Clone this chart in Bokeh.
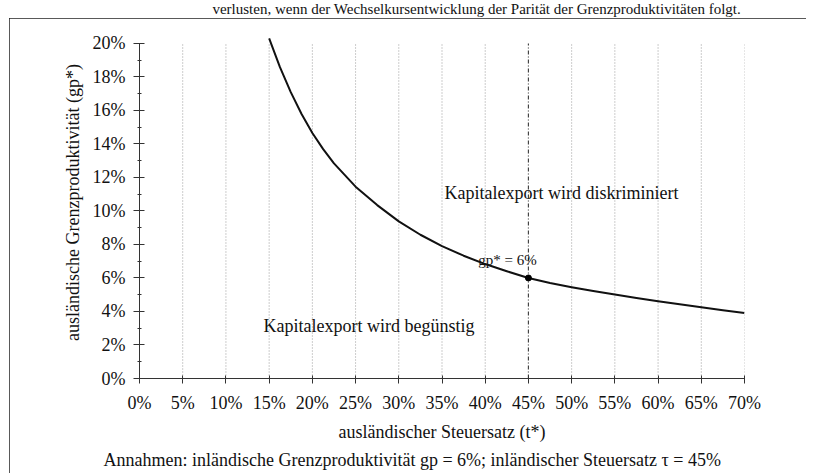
from bokeh.plotting import figure
from bokeh.models import Label, NumeralTickFormatter, FixedTicker, Title
from bokeh.layouts import column
from bokeh.embed import file_html
from bokeh.resources import INLINE

# ---- data ----
tax_rate = [0.15, 0.1625, 0.175, 0.1875, 0.20, 0.2125, 0.225, 0.25, 0.275, 0.30, 0.325,
            0.35, 0.375, 0.40, 0.425, 0.45, 0.475, 0.50, 0.525, 0.55, 0.575, 0.60,
            0.625, 0.65, 0.675, 0.70]
gp_star = [0.203, 0.1858, 0.1709, 0.1579, 0.1465, 0.1369, 0.1284, 0.1145, 0.1035, 0.0938,
           0.0858, 0.0790, 0.0733, 0.0683, 0.0640, 0.0600, 0.0570, 0.0545, 0.0522,
           0.0501, 0.0481, 0.0461, 0.0443, 0.0425, 0.0408, 0.0391]
x_ticks = [0.0, 0.05, 0.10, 0.15, 0.20, 0.25, 0.30, 0.35, 0.40, 0.45, 0.50, 0.55, 0.60, 0.65, 0.70]
y_ticks = [0.0, 0.02, 0.04, 0.06, 0.08, 0.10, 0.12, 0.14, 0.16, 0.18, 0.20]
y_minor = [0.01, 0.03, 0.05, 0.07, 0.09, 0.11, 0.13, 0.15, 0.17, 0.19]
grid_x = [0.05, 0.10, 0.15, 0.20, 0.25, 0.30, 0.35, 0.40, 0.50, 0.55, 0.60, 0.65, 0.70]
mark_x = [0.45]
mark_y = [0.06]
y_top = 0.20
mark_label = "gp* = 6%"
region_above = "Kapitalexport wird diskriminiert"
region_below = "Kapitalexport wird begünstig"
x_title = "ausländischer Steuersatz (t*)"
y_title = "ausländische Grenzproduktivität (gp*)"
note = "Annahmen: inländische Grenzproduktivität gp = 6%; inländischer Steuersatz τ = 45%"
top_text = "verlusten, wenn der Wechselkursentwicklung der Parität der Grenzproduktivitäten folgt."

FONT = "Liberation Serif"
FS = "18px"
INK = "#111111"

# header strip (text of the preceding caption, partly visible in the source)
hdr = figure(width=817, height=18, x_range=(0, 1), y_range=(0, 1),
             output_backend="svg", toolbar_location=None,
             x_axis_location=None, y_axis_location=None, min_border=0)
hdr.outline_line_color = None
hdr.xgrid.visible = False
hdr.ygrid.visible = False
hdr.add_layout(Label(x=0.554, y=0.55, text=top_text, text_font=FONT, text_font_size="15px",
                     text_align="center", text_baseline="middle", text_color=INK))

p = figure(width=797, height=455, x_range=(0, 0.70), y_range=(0, 0.2101),
           output_backend="svg", toolbar_location=None,
           min_border_left=130, min_border_right=62, min_border_top=8, min_border_bottom=94,
           margin=(0, 0, 0, 9))
p.styles = {"outline": "1.5px solid #222222", "outline-offset": "-1.5px"}
p.outline_line_color = None
p.xgrid.visible = False
p.ygrid.visible = False

# grid lines
p.segment(x0=grid_x, y0=[0] * len(grid_x), x1=grid_x, y1=[y_top] * len(grid_x),
          line_color="#9a9a9a", line_width=1, line_dash="1 2")
p.segment(x0=mark_x, y0=[0], x1=mark_x, y1=[y_top],
          line_color="#444444", line_width=1.2, line_dash="4 2 1 2")

# curve
p.line(tax_rate, gp_star, line_color=INK, line_width=2, line_join="round")
p.scatter(mark_x, mark_y, size=6, color="black")

# axes
for ax in (p.xaxis[0], p.yaxis[0]):
    ax.major_label_text_font = FONT
    ax.major_label_text_font_size = FS
    ax.major_label_text_color = INK
    ax.axis_label_text_font = FONT
    ax.axis_label_text_font_size = FS
    ax.axis_label_text_font_style = "normal"
    ax.axis_label_text_color = INK
    ax.axis_line_color = "#333333"
    ax.major_tick_line_color = "#333333"
    ax.minor_tick_line_color = "#333333"
    ax.formatter = NumeralTickFormatter(format="0%")

p.xaxis.ticker = FixedTicker(ticks=x_ticks)
p.yaxis.ticker = FixedTicker(ticks=y_ticks, minor_ticks=y_minor)
p.xaxis.minor_tick_line_color = None
p.xaxis.major_tick_in = 3
p.xaxis.major_tick_out = 5
p.xaxis.major_label_standoff = 9
p.xaxis.axis_label = x_title
p.xaxis.axis_label_standoff = 6
p.yaxis.bounds = (0, y_top)
p.yaxis.major_tick_in = 5
p.yaxis.major_tick_out = 6
p.yaxis.minor_tick_in = 2
p.yaxis.minor_tick_out = 2
p.yaxis.major_label_standoff = 8
p.yaxis.axis_label = y_title
p.yaxis.axis_label_standoff = 7

# note below the axis title
p.add_layout(Title(text=note, align="left", offset=-36, text_font=FONT,
                   text_font_size=FS, text_font_style="normal", text_color=INK,
                   standoff=7), "below")

# text annotations in the plot
p.add_layout(Label(x=0.353, y=0.1107, text=region_above, text_font=FONT, text_font_size=FS,
                   text_baseline="middle", text_color=INK))
p.add_layout(Label(x=0.1435, y=0.0315, text=region_below, text_font=FONT, text_font_size=FS,
                   text_baseline="middle", text_color=INK))
p.add_layout(Label(x=0.392, y=0.071, text=mark_label, text_font=FONT, text_font_size="15px",
                   text_baseline="middle", text_color=INK))

layout = column(hdr, p, spacing=0)
open("out.html", "w").write(file_html(layout, INLINE))
